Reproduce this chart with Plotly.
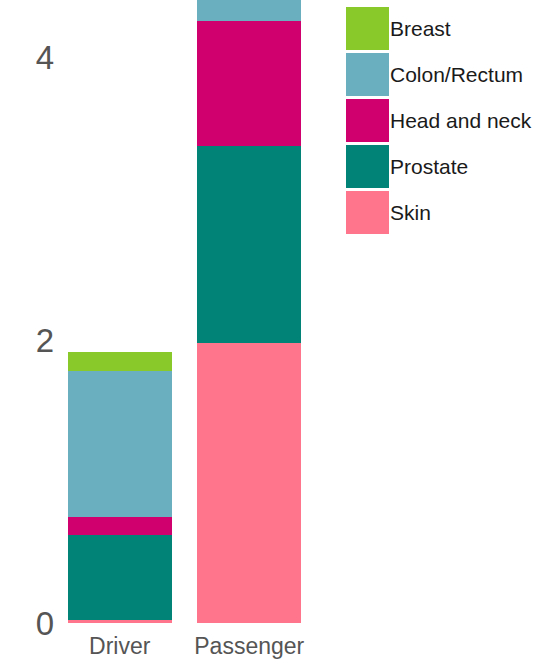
import plotly.graph_objects as go

categories = ["Driver", "Passenger"]
series_names = ["Skin", "Prostate", "Head and neck", "Colon/Rectum", "Breast"]
skin = [0.02, 1.98]
prostate = [0.60, 1.40]
head_neck = [0.13, 0.88]
colon_rectum = [1.035, 0.35]
breast = [0.135, 0.0]
colors = {
    "Breast": "#89C92A",
    "Colon/Rectum": "#69AFC0",
    "Head and neck": "#D1006F",
    "Prostate": "#028378",
    "Skin": "#FF758C",
}
values = {
    "Skin": skin,
    "Prostate": prostate,
    "Head and neck": head_neck,
    "Colon/Rectum": colon_rectum,
    "Breast": breast,
}
legend_order = ["Breast", "Colon/Rectum", "Head and neck", "Prostate", "Skin"]

W, H = 549, 669
L, R, T, B = 55, 235, 0, 46
PW, PH = W - L - R, H - T - B

fig = go.Figure()
for name in series_names:
    fig.add_trace(go.Bar(
        x=categories, y=values[name], name=name,
        marker=dict(color=colors[name], line=dict(width=0)),
        showlegend=False,
    ))

font_family = "Liberation Sans, Arial, sans-serif"

# manual legend with large swatches
shapes, annotations = [], []
for i, name in enumerate(legend_order):
    top = 7 + 46 * i
    bot = top + 43
    shapes.append(dict(
        type="rect", xref="paper", yref="paper",
        x0=(346 - L) / PW, x1=(389 - L) / PW,
        y0=(PH - bot + T) / PH, y1=(PH - top + T) / PH,
        fillcolor=colors[name], line=dict(width=0),
    ))
    annotations.append(dict(
        xref="paper", yref="paper", x=(388 - L) / PW, y=(PH - (top + bot) / 2 + T) / PH,
        text=name, showarrow=False, xanchor="left", yanchor="middle",
        font=dict(family=font_family, size=21, color="#1a1a1a"),
    ))

fig.update_layout(
    barmode="stack",
    bargap=0.194,
    width=W, height=H,
    margin=dict(l=L, r=R, t=T, b=B, pad=0),
    plot_bgcolor="white", paper_bgcolor="white",
    shapes=shapes, annotations=annotations,
    xaxis=dict(showgrid=False, showline=False, ticks="", ticklabelstandoff=7,
               tickfont=dict(family=font_family, size=23, color="#555555")),
    yaxis=dict(range=[0, 4.41], tickvals=[0, 2, 4], showgrid=False, zeroline=False,
               showline=False, ticks="",
               tickfont=dict(family=font_family, size=33, color="#555555")),
    showlegend=False,
)

fig.write_html("out.html", config={"displayModeBar": False},
               post_script="document.body.style.margin='0';")
